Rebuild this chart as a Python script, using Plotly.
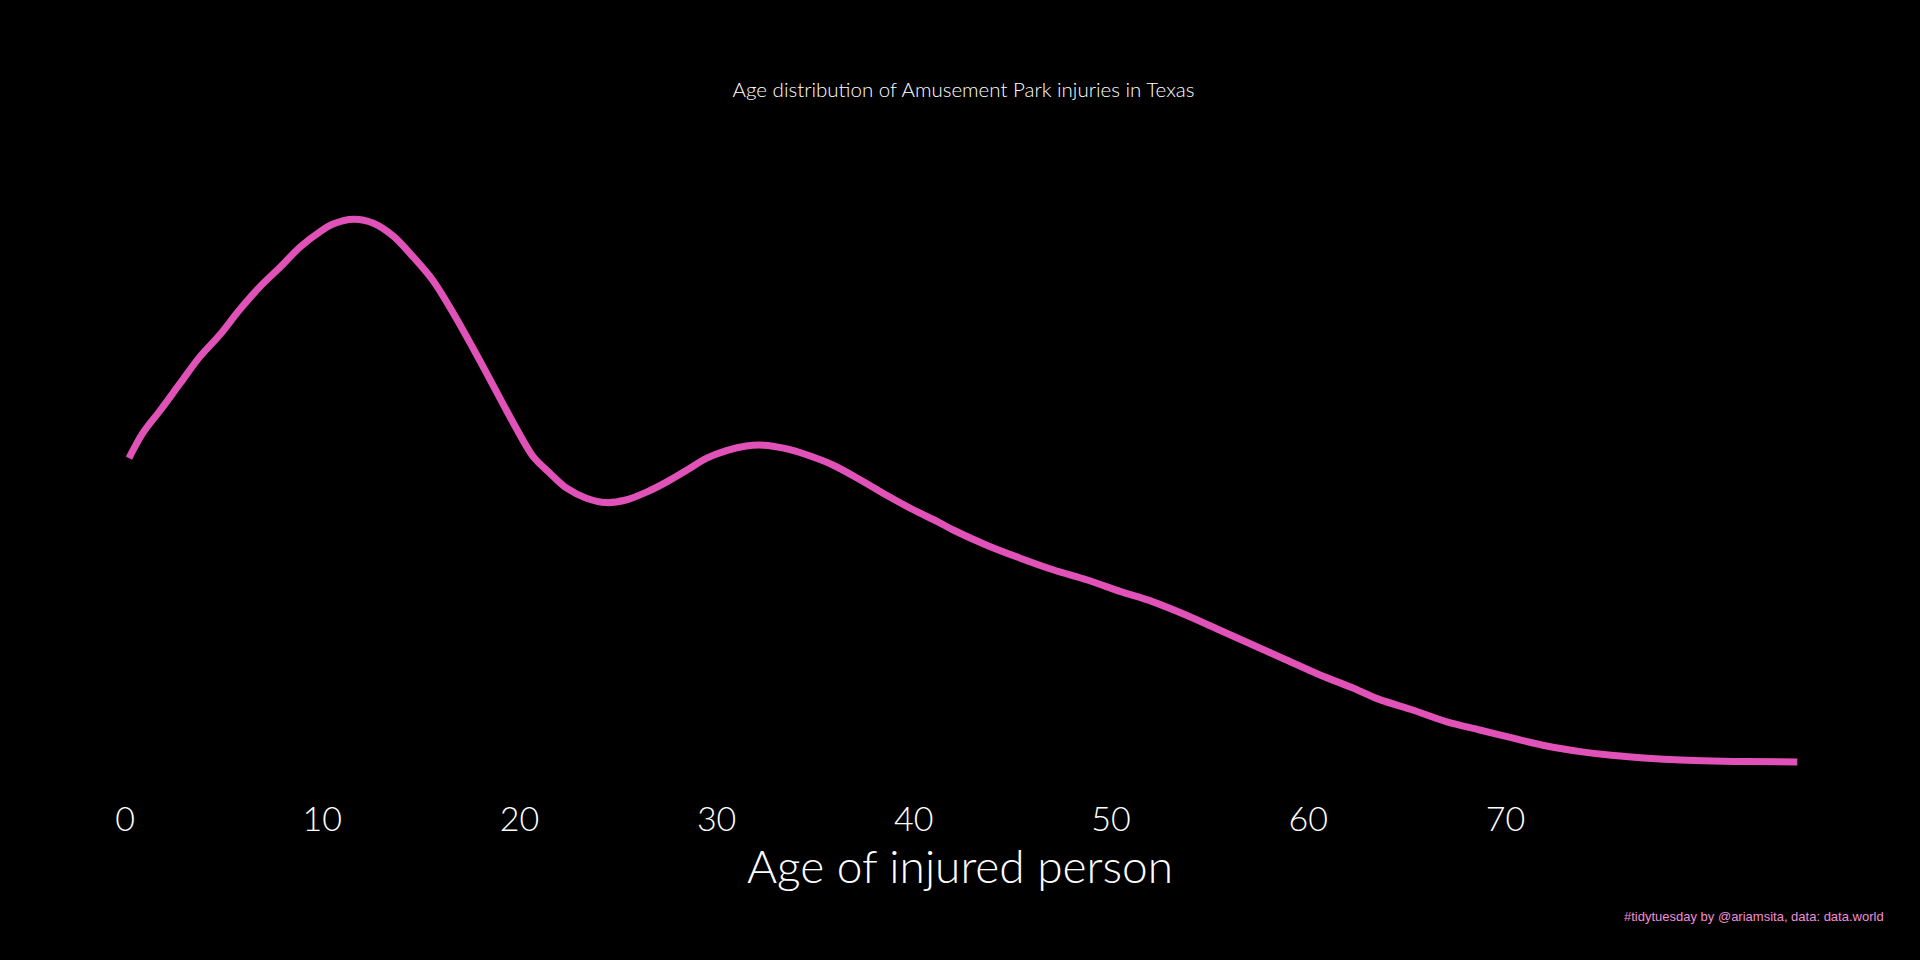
import plotly.graph_objects as go

# Age of injured person (years) and estimated density
ages = [0.2, 0.9, 1.8, 2.8, 3.8, 4.8, 5.8, 6.85, 7.9, 8.9, 9.9, 10.55, 11.6, 12.6,
        13.6, 14.6, 15.6, 16.65, 17.7, 18.7, 19.7, 20.7, 21.55, 22.4, 23.4, 24.4,
        25.4, 26.5, 27.5, 28.5, 29.5, 30.5, 31.5, 32.4, 33.4, 34.6, 35.9, 37.3,
        38.6, 40.0, 41.2, 42.0, 43.7, 45.4, 47.1, 48.8, 50.5, 52.1, 53.8, 55.5,
        57.2, 58.9, 60.6, 62.3, 63.6, 65.3, 67.0, 68.7, 70.4, 72.1, 73.8, 75.5,
        77.2, 78.9, 80.5, 82.2, 84.8]
density = [0.01559, 0.01684, 0.0180, 0.01934, 0.02067, 0.02175, 0.0230, 0.02417,
           0.02517, 0.02617, 0.02692, 0.0273, 0.02754, 0.02734, 0.0267, 0.02567,
           0.0245, 0.02284, 0.0210, 0.01917, 0.01734, 0.01567, 0.01484, 0.01409,
           0.01359, 0.01337, 0.0135, 0.01392, 0.01442, 0.0150, 0.01559, 0.01597,
           0.0162, 0.01624, 0.01609, 0.01575, 0.01525, 0.0145, 0.01375, 0.0130,
           0.01242, 0.01200, 0.01124, 0.01059, 0.0100, 0.0095, 0.00892, 0.00842,
           0.00775, 0.0070, 0.00625, 0.0055, 0.00475, 0.00409, 0.00353, 0.0030,
           0.00242, 0.0020, 0.00159, 0.0012, 0.00092, 0.00072, 0.00059, 0.0005,
           0.00045, 0.00042, 0.0004]
tick_vals = [0, 10, 20, 30, 40, 50, 60, 70]
tick_text = ["0", "10", "20", "30", "40", "50", "60", "70"]

title_text = "Age distribution of Amusement Park injuries in Texas"
xaxis_title = "Age of injured person"
caption = "#tidytuesday by @ariamsita, data: data.world"

FONT = "Lato, 'Open Sans', sans-serif"

fig = go.Figure()
fig.add_trace(go.Scatter(
    x=ages, y=density, mode="lines",
    line=dict(color="#E052B8", width=7, shape="spline", smoothing=0.9),
    hoverinfo="x+y", showlegend=False,
))

px_per_year = 19.72
x0_px = 125
W, H = 1920, 960
T, B = 150, 170
fig.update_layout(
    width=W, height=H,
    paper_bgcolor="black", plot_bgcolor="black",
    margin=dict(l=0, r=0, t=T, b=B),
    title=dict(text=title_text, x=963.5 / W, xanchor="center",
               y=1 - 90 / H, yanchor="middle", yref="container",
               font=dict(family=FONT, size=20.5, color="white", weight=300)),
    xaxis=dict(range=[-x0_px / px_per_year, (W - x0_px) / px_per_year],
               tickvals=tick_vals, ticktext=tick_text,
               showgrid=False, zeroline=False, showline=False, ticks="",
               ticklabelstandoff=6,
               tickfont=dict(family=FONT, size=34, color="white", weight=300),
               title=dict(text=xaxis_title, standoff=10,
                          font=dict(family=FONT, size=46, color="white", weight=300))),
    yaxis=dict(range=[-0.001, 0.031], visible=False, showgrid=False, zeroline=False),
    annotations=[dict(text=caption, x=1886 / W, y=(H - 916 - B) / (H - T - B),
                      xref="paper", yref="paper", xanchor="right", yanchor="middle",
                      showarrow=False,
                      font=dict(family="'Liberation Sans', Arial, sans-serif",
                                size=13, color="#F08ED6"))],
)

fig.write_html(
    "out.html",
    config={"displayModeBar": False},
    post_script="document.body.style.margin='0';document.body.style.background='black';",
)
